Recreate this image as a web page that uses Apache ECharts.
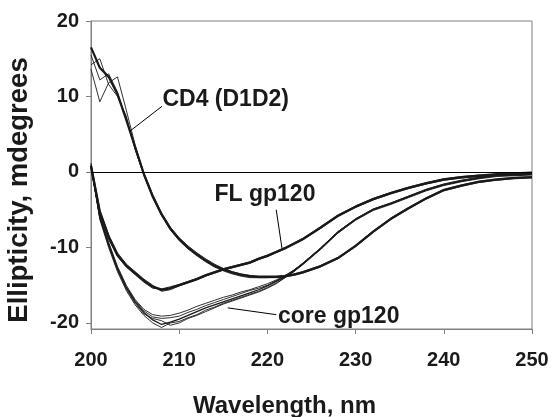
<!DOCTYPE html>
<html>
<head>
<meta charset="utf-8">
<script src="https://cdn.jsdelivr.net/npm/echarts@6/dist/echarts.min.js"></script>
<style>
html,body{margin:0;padding:0;background:#fff;}
#c{width:555px;height:417px;}
</style>
</head>
<body>
<div id="c"></div>
<script>
// Wavelengths (nm)
const wavelengths = [200,201,202,203,204,205,206,207,208,209,210,211,212,213,214,215,216,217,218,219,220,221,222,223,224,
  226,228,230,232,234,236,238,240,242,244,246,248,250];

// CD4 (D1D2) traces
const cd4A = [16.5,13.8,12.6,10.3,6.9,3.3,-0.3,-3.2,-5.6,-7.5,-8.9,-10.0,-10.9,-11.7,-12.4,-12.9,-13.3,-13.6,-13.8,-13.9,-13.9,-13.9,-13.8,-13.6,-13.3,
  -12.5,-11.4,-9.8,-7.9,-6.2,-4.8,-3.5,-2.4,-1.8,-1.3,-1.0,-0.8,-0.7];
const cd4B = [14.2,15.0,11.6,10.0,7.4,3.0,-0.5,-3.5,-5.8,-7.7,-9.1,-10.2,-11.1,-11.9,-12.6,-13.1,-13.5,-13.8,-14.0,-14.0,-14.0,-14.0,-13.9,-13.7,-13.4,
  -12.6,-11.5,-9.9,-8.0,-6.3,-4.9,-3.6,-2.5,-1.9,-1.4,-1.1,-0.9,-0.8];
const cd4C = [13.6,9.3,11.8,12.6,8.2,3.6,-0.1,-3.0,-5.4,-7.3,-8.7,-9.8,-10.7,-11.5,-12.2,-12.8,-13.2,-13.5,-13.7,-13.8,-13.8,-13.8,-13.7,-13.5,-13.2,
  -12.4,-11.3,-9.7,-7.8,-6.1,-4.7,-3.4,-2.3,-1.7,-1.2,-0.9,-0.7,-0.6];
const cd4D = [15.5,12.2,13.0,10.6,7.0,3.1,-0.4,-3.3,-5.7,-7.6,-9.0,-10.1,-11.0,-11.8,-12.5,-13.0,-13.4,-13.7,-13.9,-14.0,-14.0,-13.9,-13.8,-13.6,-13.3,
  -12.5,-11.4,-9.8,-7.9,-6.2,-4.8,-3.5,-2.4,-1.8,-1.3,-1.0,-0.8,-0.7];

// FL gp120 traces
const flA = [0.8,-5.3,-8.6,-11.0,-12.4,-13.4,-14.4,-15.2,-15.6,-15.4,-15.0,-14.6,-14.2,-13.7,-13.3,-12.9,-12.6,-12.3,-12.0,-11.5,-11.1,-10.6,-10.1,-9.5,-8.9,
  -7.4,-5.8,-4.6,-3.6,-2.8,-2.1,-1.5,-1.0,-0.7,-0.5,-0.3,-0.2,-0.1];
const flB = [1.2,-5.0,-8.3,-10.7,-12.2,-13.2,-14.2,-15.0,-15.8,-15.6,-15.1,-14.7,-14.3,-13.8,-13.4,-13.0,-12.7,-12.4,-12.1,-11.6,-11.2,-10.7,-10.2,-9.6,-9.0,
  -7.5,-5.9,-4.7,-3.7,-2.9,-2.2,-1.6,-1.1,-0.8,-0.6,-0.4,-0.3,-0.2];
const flC = [0.5,-5.6,-8.9,-11.2,-12.6,-13.6,-14.6,-15.4,-15.5,-15.2,-14.9,-14.5,-14.1,-13.6,-13.2,-12.8,-12.5,-12.2,-11.9,-11.4,-11.0,-10.5,-10.0,-9.4,-8.8,
  -7.3,-5.7,-4.5,-3.5,-2.7,-2.0,-1.4,-0.9,-0.6,-0.4,-0.3,-0.2,-0.1];

// core gp120 traces
const coreA = [0.8,-6.0,-9.6,-12.8,-15.3,-17.2,-18.6,-19.6,-20.2,-19.9,-19.5,-19.0,-18.5,-18.0,-17.6,-17.2,-16.8,-16.4,-16.0,-15.6,-15.1,-14.5,-13.9,-13.1,-12.2,
  -10.2,-8.0,-6.3,-5.0,-4.2,-3.3,-2.4,-1.7,-1.2,-0.8,-0.5,-0.4,-0.3];
const coreB = [1.0,-6.3,-10.0,-13.2,-15.7,-17.6,-19.0,-20.0,-20.6,-20.0,-19.8,-19.3,-18.9,-18.3,-17.9,-17.4,-17.0,-16.6,-16.2,-15.8,-15.3,-14.7,-14.0,-13.2,-12.3,
  -10.3,-8.1,-6.4,-5.1,-4.3,-3.4,-2.5,-1.8,-1.3,-0.9,-0.6,-0.5,-0.4];
const coreC = [0.6,-5.8,-9.3,-12.5,-15.0,-16.9,-18.2,-18.9,-19.1,-19.0,-18.7,-18.3,-17.8,-17.4,-17.0,-16.6,-16.3,-15.9,-15.6,-15.2,-14.8,-14.3,-13.7,-13.0,-12.1,
  -10.1,-7.9,-6.2,-4.9,-4.1,-3.2,-2.3,-1.6,-1.1,-0.7,-0.4,-0.3,-0.2];
const coreD = [0.9,-6.1,-9.8,-13.0,-15.5,-17.4,-18.8,-19.4,-19.7,-20.3,-20.0,-19.4,-19.0,-18.5,-18.0,-17.5,-17.1,-16.7,-16.3,-15.9,-15.4,-14.8,-14.0,-13.2,-12.2,
  -10.2,-8.0,-6.3,-5.0,-4.2,-3.3,-2.4,-1.7,-1.2,-0.8,-0.5,-0.4,-0.3];
const coreE = [0.7,-5.9,-9.5,-12.7,-15.2,-17.0,-18.4,-19.2,-19.4,-19.3,-19.1,-18.6,-18.2,-17.7,-17.3,-16.9,-16.5,-16.1,-15.7,-15.4,-15.0,-14.4,-13.8,-13.0,-12.1,
  -10.1,-7.9,-6.2,-4.9,-4.1,-3.2,-2.3,-1.6,-1.1,-0.7,-0.4,-0.3,-0.2];

// Axis ticks
const xTicks = [200,210,220,230,240,250];
const yTicks = [-20,-10,0,10,20];

// Annotations: label text, label anchor [nm, mdeg], leader line ends
const annLabels = ['CD4 (D1D2)','FL gp120','core gp120'];
const annAnchors = [[208.1,9.6],[214.0,-3.0],[221.2,-19.2]];
const annLeaders = [
  [[208.05,8.7],[204.4,5.4]],
  [[221.0,-5.0],[221.65,-10.1]],
  [[221.0,-18.9],[215.5,-18.0]]
];

const FONT = 'Liberation Sans, Arial, sans-serif';
const INK = '#1a1a1a';
const zip = v => wavelengths.map((w,i)=>[w,v[i]]);

function trace(vals, width){
  return {type:'line', data: zip(vals), showSymbol:false, symbol:'none', silent:true,
    lineStyle:{color:INK, width:width}, z:3};
}

const series = [
  trace(cd4A,2.2), trace(cd4B,0.9), trace(cd4C,0.9), trace(cd4D,0.9),
  trace(flA,2.4), trace(flB,0.9), trace(flC,0.9),
  trace(coreA,1.3), trace(coreB,0.9), trace(coreC,0.9), trace(coreD,0.9), trace(coreE,0.9)
];

// zero line + leaders + labels on an extra series
series.push({
  type:'line', data:[], silent:true,
  markLine:{
    silent:true, symbol:['none','none'], animation:false,
    label:{show:false},
    lineStyle:{color:'#000', width:1, type:'solid'},
    data:[{yAxis:0}].concat(annLeaders.map(l=>[{coord:l[0]},{coord:l[1]}]))
  },
  markPoint:{
    silent:true, symbol:'circle', symbolSize:0, animation:false,
    label:{show:true, position:'right', distance:0, formatter:'{b}',
      fontFamily:FONT, fontWeight:'bold', fontSize:23, color:INK},
    data: annLabels.map((t,i)=>({name:t, coord:annAnchors[i], value:0}))
  }
});

const chart = echarts.init(document.getElementById('c'), null, {renderer:'canvas'});
chart.setOption({
  animation:false,
  backgroundColor:'#fff',
  grid:{left:91, right:23, top:21, bottom:88, show:true, borderColor:'#808080', borderWidth:1,
    containLabel:false, outerBoundsMode:'none'},
  xAxis:{
    type:'value', min:200, max:250, interval:10,
    name:'Wavelength, nm', nameLocation:'middle', nameGap:65,
    nameTextStyle:{fontFamily:FONT, fontWeight:'bold', fontSize:24, color:INK, padding:[0,54,0,0]},
    axisLine:{show:true, onZero:false, lineStyle:{color:'#808080', width:1}},
    axisTick:{show:true, inside:false, length:5, lineStyle:{color:'#808080'}},
    axisLabel:{margin:21, fontFamily:FONT, fontWeight:'bold', fontSize:20, color:INK,
      customValues:xTicks},
    splitLine:{show:false}
  },
  yAxis:{
    type:'value', min:-20.8, max:20,
    name:'Ellipticity, mdegrees', nameLocation:'middle', nameGap:58,
    nameTextStyle:{fontFamily:FONT, fontWeight:'bold', fontSize:27.5, color:INK, padding:[0,30,0,0]},
    axisLine:{show:true, onZero:false, lineStyle:{color:'#808080', width:1}},
    axisTick:{show:true, inside:false, length:5, lineStyle:{color:'#808080'}, customValues:yTicks},
    axisLabel:{margin:12, fontFamily:FONT, fontWeight:'bold', fontSize:20, color:INK,
      customValues:yTicks},
    splitLine:{show:false}
  },
  series: series
});
</script>
</body>
</html>
